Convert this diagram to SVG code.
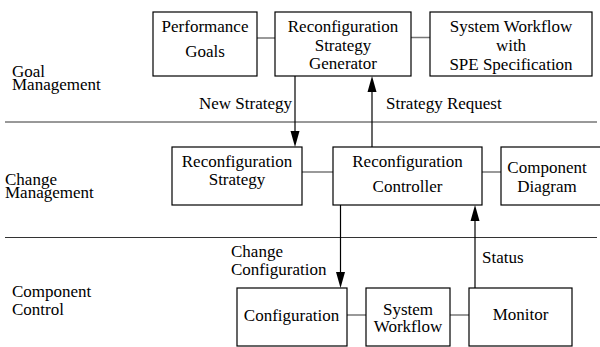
<svg xmlns="http://www.w3.org/2000/svg" width="600" height="347" viewBox="0 0 600 347">
<rect width="600" height="347" fill="#fff"/>
<text x="12" y="76.5" font-family="Liberation Serif" font-size="17">Goal</text>
<text x="12" y="89.5" font-family="Liberation Serif" font-size="17">Management</text>
<text x="5" y="185" font-family="Liberation Serif" font-size="17">Change</text>
<text x="5" y="198" font-family="Liberation Serif" font-size="17">Management</text>
<text x="12" y="297" font-family="Liberation Serif" font-size="17">Component</text>
<text x="12" y="315" font-family="Liberation Serif" font-size="17">Control</text>
<g stroke="#333" stroke-width="1" fill="none">
<line x1="5" y1="122" x2="597" y2="122"/>
<line x1="5" y1="237.5" x2="597" y2="237.5"/>
</g>
<g>
<text x="199" y="108.5" font-family="Liberation Serif" font-size="17">New Strategy</text>
<text x="386" y="108.5" font-family="Liberation Serif" font-size="17">Strategy Request</text>
<text x="231" y="257" font-family="Liberation Serif" font-size="17">Change</text>
<text x="231" y="275" font-family="Liberation Serif" font-size="17">Configuration</text>
<text x="482" y="262.5" font-family="Liberation Serif" font-size="17">Status</text>
</g>
<g id="connectors">
<g stroke="#777" stroke-width="1.5" fill="none">
<line x1="257" y1="38" x2="275" y2="38"/>
<line x1="411" y1="37.5" x2="430" y2="37.5"/>
<line x1="302" y1="172" x2="333" y2="172"/>
<line x1="482" y1="172" x2="501" y2="172"/>
<line x1="347" y1="315" x2="366" y2="315"/>
<line x1="450" y1="315" x2="469" y2="315"/>
</g>
<g stroke="#000" stroke-width="1.2" fill="none">
<line x1="295" y1="76" x2="295" y2="132"/>
<line x1="372" y1="147" x2="372" y2="92"/>
<line x1="340.5" y1="205" x2="340.5" y2="273"/>
<line x1="475" y1="288" x2="475" y2="221"/>
</g>
<g fill="#000">
<path d="M290.5,131 L299.5,131 L295,147 Z"/>
<path d="M367.5,92 L376.5,92 L372,76 Z"/>
<path d="M336,272 L345,272 L340.5,288 Z"/>
<path d="M470.5,221 L479.5,221 L475,205 Z"/>
</g>
</g>
<g id="performance-goals">
<rect x="153" y="12" width="104" height="64" fill="#fff" stroke="#000" stroke-width="1.2"/>
<text x="205" y="32" font-family="Liberation Serif" font-size="17" text-anchor="middle">Performance</text>
<text x="205" y="57" font-family="Liberation Serif" font-size="17" text-anchor="middle">Goals</text>
</g>
<g id="strategy-generator">
<rect x="275" y="12" width="136" height="64" fill="#fff" stroke="#000" stroke-width="1.2"/>
<text x="343" y="32" font-family="Liberation Serif" font-size="17" text-anchor="middle">Reconfiguration</text>
<text x="343" y="50.5" font-family="Liberation Serif" font-size="17" text-anchor="middle">Strategy</text>
<text x="343" y="69" font-family="Liberation Serif" font-size="17" text-anchor="middle">Generator</text>
</g>
<g id="system-workflow-spe">
<rect x="430" y="12" width="162" height="64" fill="#fff" stroke="#000" stroke-width="1.2"/>
<text x="511" y="32" font-family="Liberation Serif" font-size="17" text-anchor="middle">System Workflow</text>
<text x="511" y="50.5" font-family="Liberation Serif" font-size="17" text-anchor="middle">with</text>
<text x="511" y="70" font-family="Liberation Serif" font-size="17" text-anchor="middle">SPE Specification</text>
</g>
<g id="reconfiguration-strategy">
<rect x="172" y="147" width="130" height="58" fill="#fff" stroke="#000" stroke-width="1.2"/>
<text x="237" y="166.5" font-family="Liberation Serif" font-size="17" text-anchor="middle">Reconfiguration</text>
<text x="237" y="185" font-family="Liberation Serif" font-size="17" text-anchor="middle">Strategy</text>
</g>
<g id="reconfiguration-controller">
<rect x="333" y="147" width="149" height="58" fill="#fff" stroke="#000" stroke-width="1.2"/>
<text x="407.5" y="166.5" font-family="Liberation Serif" font-size="17" text-anchor="middle">Reconfiguration</text>
<text x="407.5" y="191.5" font-family="Liberation Serif" font-size="17" text-anchor="middle">Controller</text>
</g>
<g id="component-diagram">
<rect x="501" y="147" width="102" height="58" fill="#fff" stroke="#000" stroke-width="1.2"/>
<text x="547" y="173" font-family="Liberation Serif" font-size="17" text-anchor="middle">Component</text>
<text x="547" y="191.5" font-family="Liberation Serif" font-size="17" text-anchor="middle">Diagram</text>
</g>
<g id="configuration">
<rect x="237" y="288" width="110" height="58" fill="#fff" stroke="#000" stroke-width="1.2"/>
<text x="291.5" y="320.5" font-family="Liberation Serif" font-size="17" text-anchor="middle">Configuration</text>
</g>
<g id="system-workflow">
<rect x="366" y="288" width="84" height="58" fill="#fff" stroke="#000" stroke-width="1.2"/>
<text x="408" y="315" font-family="Liberation Serif" font-size="17" text-anchor="middle">System</text>
<text x="408" y="331.5" font-family="Liberation Serif" font-size="17" text-anchor="middle">Workflow</text>
</g>
<g id="monitor">
<rect x="469" y="288" width="103" height="58" fill="#fff" stroke="#000" stroke-width="1.2"/>
<text x="520.5" y="320" font-family="Liberation Serif" font-size="17" text-anchor="middle">Monitor</text>
</g>
</svg>
